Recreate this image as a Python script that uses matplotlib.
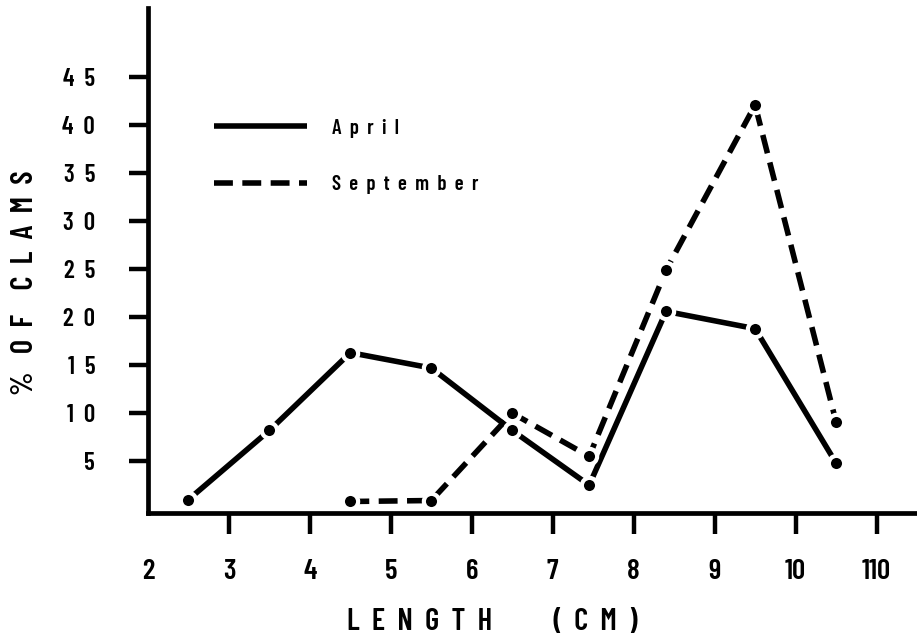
import matplotlib.pyplot as plt

# length classes (cm) and percentage of clams
april_len = [2.5, 3.5, 4.5, 5.5, 6.5, 7.45, 8.4, 9.5, 10.5]
april_pct = [1.0, 8.2, 16.3, 14.7, 8.2, 2.5, 20.6, 18.8, 4.8]

sept_len = [4.5, 5.5, 6.5, 7.45, 8.4, 9.5, 10.5]
sept_pct = [0.8, 0.9, 10.0, 5.5, 24.9, 42.1, 9.1]

x_ticks = [2, 3, 4, 5, 6, 7, 8, 9, 10, 11]
x_labels = ['2', '3', '4', '5', '6', '7', '8', '9', '10', '110']
y_ticks = [5, 10, 15, 20, 25, 30, 35, 40, 45]
y_labels = ['5', '1  0', '1  5', '2  0', '2  5', '3  0', '3  5', '4  0', '4  5']

plt.rcParams['font.family'] = ['Barlow Condensed', 'DejaVu Sans']
plt.rcParams['font.weight'] = 600

fig = plt.figure(figsize=(9.17, 6.43), dpi=100)
ax = fig.add_axes([148 / 917, 1 - 513 / 643, 1 - 148 / 917, (513 - 8) / 643])

ax.plot(april_len, april_pct, color='black', lw=4, solid_capstyle='butt', label='A  p  r  i  l')
ax.plot(sept_len, sept_pct, color='black', lw=4, dashes=(3.4, 1.7), label='S  e  p  t  e  m  b  e  r')
ax.plot(april_len, april_pct, 'o', color='black', ms=11, mec='white', mew=3)
ax.plot(sept_len, sept_pct, 'o', color='black', ms=11, mec='white', mew=3)

ax.set_xlim(2, 11.5)
ax.set_ylim(-0.4, 52.2)

for s in ['top', 'right']:
    ax.spines[s].set_visible(False)
for s in ['left', 'bottom']:
    ax.spines[s].set_linewidth(3.4)

ax.set_xticks(x_ticks)
ax.set_xticklabels(x_labels, fontsize=21)
ax.set_yticks(y_ticks)
ax.set_yticklabels(y_labels, fontsize=18)
ax.tick_params(axis='x', length=15, width=3.2, pad=18)
ax.tick_params(axis='y', length=14, width=3.2, pad=24)
ax.xaxis.get_major_ticks()[0].tick1line.set_visible(False)

ax.set_ylabel('%   O  F    C  L  A  M  S', fontsize=22, fontweight=600)
ax.yaxis.set_label_coords(-0.142, 0.455)
fig.text(492 / 917, 1 - 622 / 643, 'L  E  N  G  T  H          (  C  M  )', fontsize=22,
         ha='center', va='center')

ax.legend(loc='upper left', bbox_to_anchor=(0.061, 0.818), frameon=False, fontsize=15,
          handlelength=4.5, handletextpad=1.2, labelspacing=1.8)

fig.savefig('out.png', dpi=100)
